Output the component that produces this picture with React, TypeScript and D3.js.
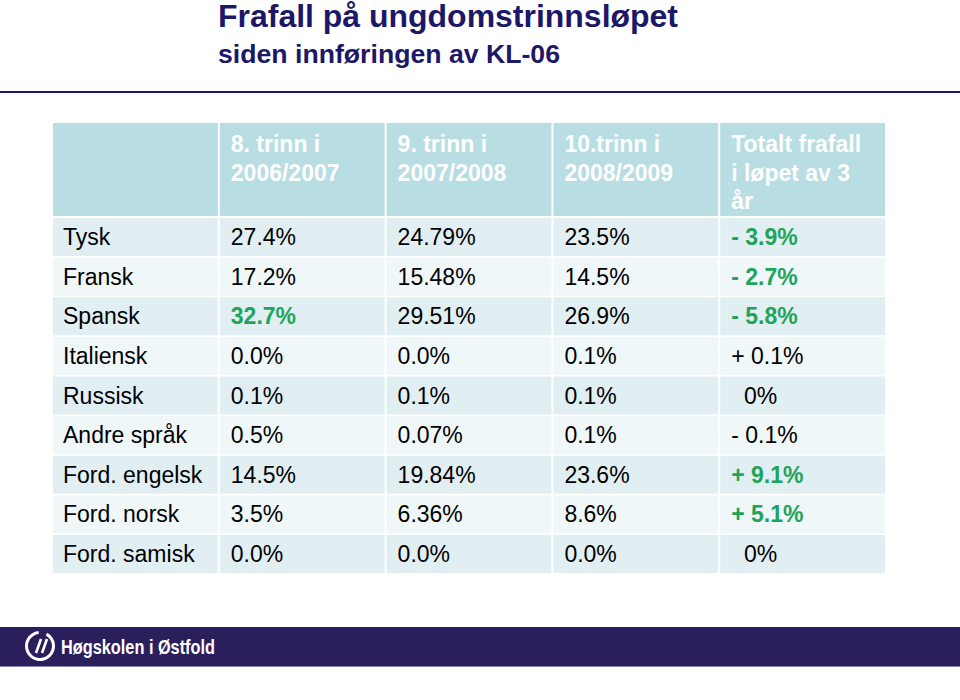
import React from 'react';
import * as d3 from 'd3';

const title = 'Frafall på ungdomstrinnsløpet';
const subtitle = 'siden innføringen av KL-06';

const headers = [
  [],
  ['8. trinn i', '2006/2007'],
  ['9. trinn i', '2007/2008'],
  ['10.trinn i', '2008/2009'],
  ['Totalt frafall', 'i løpet av 3', 'år'],
];

const languages = ['Tysk', 'Fransk', 'Spansk', 'Italiensk', 'Russisk', 'Andre språk', 'Ford. engelsk', 'Ford. norsk', 'Ford. samisk'];
const trinn8 = ['27.4%', '17.2%', '32.7%', '0.0%', '0.1%', '0.5%', '14.5%', '3.5%', '0.0%'];
const trinn9 = ['24.79%', '15.48%', '29.51%', '0.0%', '0.1%', '0.07%', '19.84%', '6.36%', '0.0%'];
const trinn10 = ['23.5%', '14.5%', '26.9%', '0.1%', '0.1%', '0.1%', '23.6%', '8.6%', '0.0%'];
const totalt = ['- 3.9%', '- 2.7%', '- 5.8%', '+ 0.1%', '  0%', '- 0.1%', '+ 9.1%', '+ 5.1%', '  0%'];

// cells drawn in bold green: [row, column]
const highlights = [[0, 4], [1, 4], [2, 1], [2, 4], [6, 4], [7, 4]];

const columns = [languages, trinn8, trinn9, trinn10, totalt];

const font = 'Liberation Sans, Arial, sans-serif';

const App = () => {
  const width = 960;
  const height = 700;

  const x = d3.scaleBand<number>()
    .domain(d3.range(columns.length))
    .range([53, 885])
    .paddingInner(0.012);

  const y = d3.scaleBand<number>()
    .domain(d3.range(languages.length))
    .range([218, 573])
    .paddingInner(0.04);

  const isHi = (r: number, c: number) => highlights.some(h => h[0] === r && h[1] === c);

  return (
    <div style={{ position: 'fixed', left: 0, top: 0 }}>
      <svg width={width} height={height} style={{ display: 'block', background: '#fff' }}>
        {/* title */}
        <text x={218} y={27} fill="#1c1766" fontFamily={font} fontWeight="bold" fontSize={31}
          textLength={460} lengthAdjust="spacingAndGlyphs">{title}</text>
        <text x={218} y={63} fill="#1c1766" fontFamily={font} fontWeight="bold" fontSize={25}
          textLength={342} lengthAdjust="spacingAndGlyphs">{subtitle}</text>
        <rect x={0} y={91} width={width} height={2} fill="#1c1766" />

        {/* header row */}
        {columns.map((_, c) => (
          <g key={'h' + c}>
            <rect x={x(c)} y={123} width={x.bandwidth()} height={93} fill="#b8dde2" />
            {headers[c].map((line, i) => (
              <text key={i} x={(x(c) as number) + 11} y={152 + i * 28.5} fill="#fff"
                fontFamily={font} fontWeight="bold" fontSize={23}>{line}</text>
            ))}
          </g>
        ))}

        {/* body */}
        {languages.map((_, r) => (
          <g key={'r' + r}>
            {columns.map((col, c) => (
              <g key={c}>
                <rect x={x(c)} y={y(r)} width={x.bandwidth()} height={y.bandwidth()}
                  fill={r % 2 === 0 ? '#e2eff2' : '#f0f7f9'} />
                <text x={(x(c) as number) + (c === 0 ? 10 : 11)} y={(y(r) as number) + y.bandwidth() / 2 + 8}
                  fill={isHi(r, c) ? '#20a35a' : '#000'}
                  fontWeight={isHi(r, c) ? 'bold' : 'normal'}
                  fontFamily={font} fontSize={23}
                  style={{ whiteSpace: 'pre' }}>{col[r]}</text>
              </g>
            ))}
          </g>
        ))}

        {/* footer band */}
        <rect x={0} y={627} width={width} height={39} fill="#2a1f5c" />
        <rect x={0} y={666} width={width} height={1} fill="#8a86b0" />
        <g transform="translate(40,646)">
          <path d={d3.arc()({ innerRadius: 12, outerRadius: 15, startAngle: 0.5, endAngle: Math.PI * 2 - 0.1 }) as string} fill="#fff" />
          <path d="M-4,7 L1,-7 M2,7 L7,-7" stroke="#fff" strokeWidth={2.6} />
        </g>
        <text x={61} y={654} fill="#fff" fontFamily={font} fontWeight="bold" fontSize={21}
          textLength={154} lengthAdjust="spacingAndGlyphs">Høgskolen i Østfold</text>
      </svg>
    </div>
  );
};

export default App;
